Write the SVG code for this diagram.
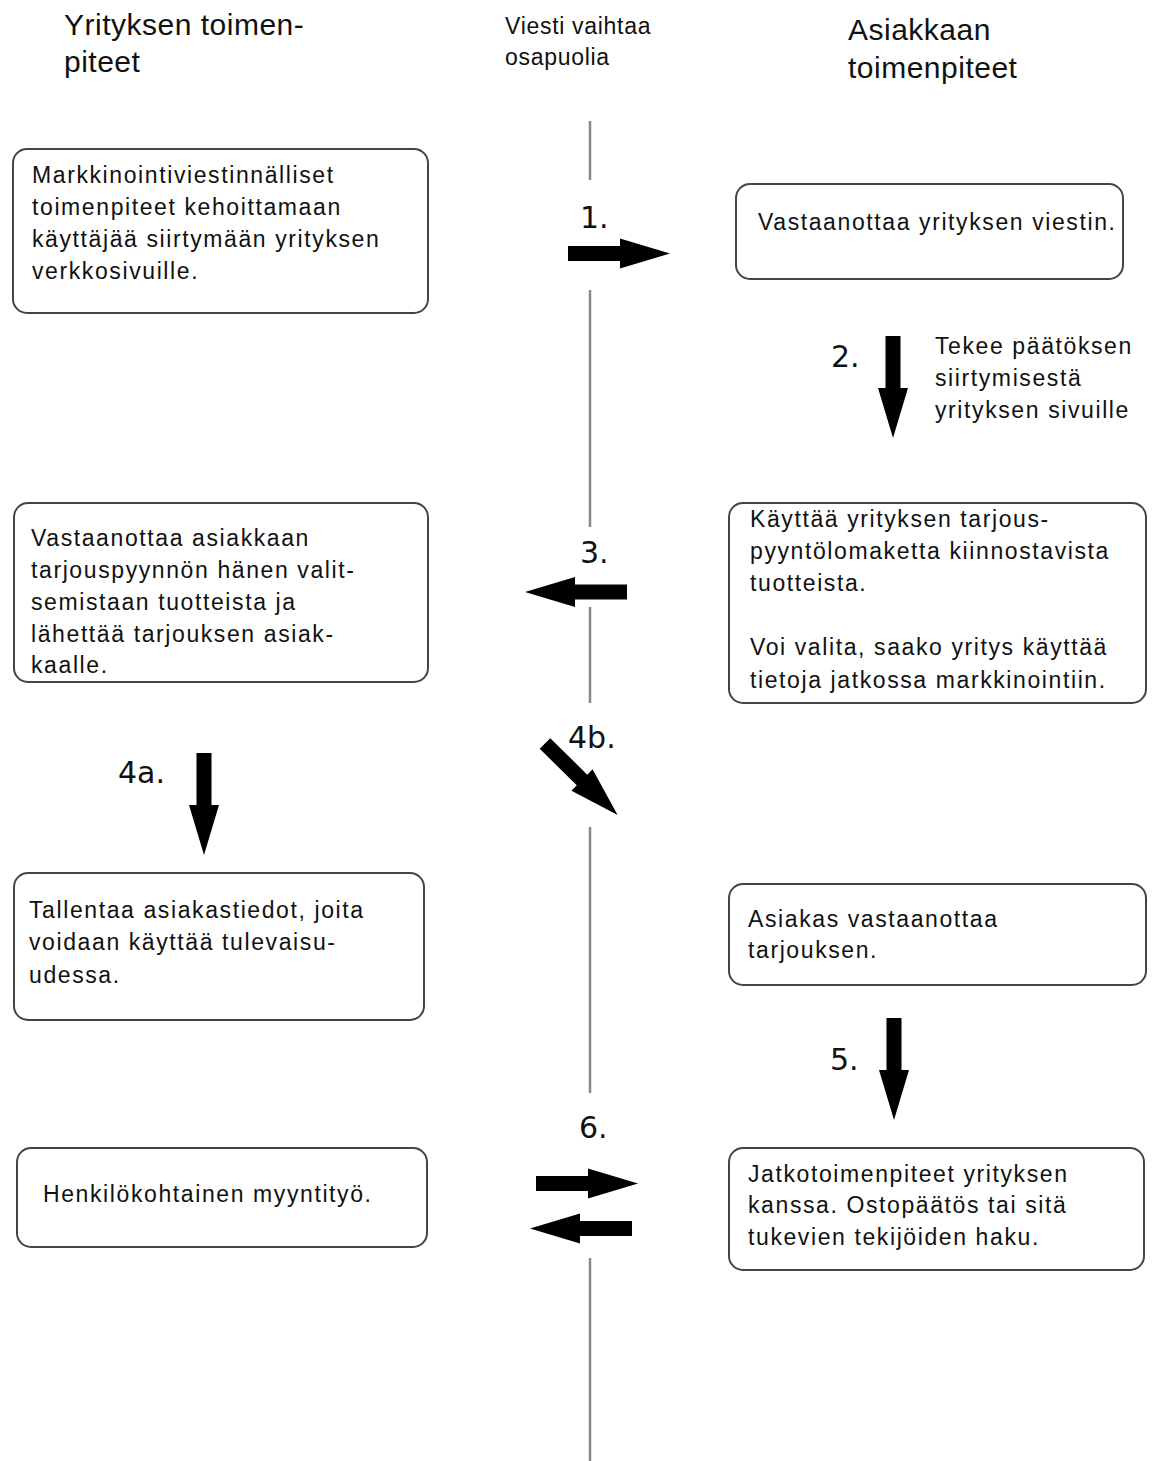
<svg xmlns="http://www.w3.org/2000/svg" xmlns:xlink="http://www.w3.org/1999/xlink" width="1152" height="1461" viewBox="0 0 1152 1461">
<style>
.box{fill:#fff;stroke:#444;stroke-width:2}
.t{font-family:"Liberation Sans",Arial,sans-serif;font-size:23px;letter-spacing:1.6px;fill:#111}
.h{font-family:"Liberation Sans",Arial,sans-serif;font-size:30px;letter-spacing:0.5px;fill:#111}
.hm{font-family:"Liberation Sans",Arial,sans-serif;font-size:23px;letter-spacing:0.7px;fill:#111}
.n{font-family:"DejaVu Sans",Verdana,sans-serif;font-size:30px;fill:#111}
.ln{stroke:#888;stroke-width:2.5}
.arr{fill:#000}
</style>
<defs>
<path id="arr" d="M0,-7.5 L52,-7.5 L52,-15 L102,0 L52,15 L52,7.5 L0,7.5 Z"/>
</defs>
<rect width="1152" height="1461" fill="#fff"/>
<g id="headers">
<text class="h" x="64" y="35">Yrityksen toimen-</text>
<text class="h" x="64" y="72">piteet</text>
<text class="hm" x="505" y="34">Viesti vaihtaa</text>
<text class="hm" x="505" y="65">osapuolia</text>
<text class="h" x="848" y="40">Asiakkaan</text>
<text class="h" x="848" y="78">toimenpiteet</text>
</g>
<g id="divider">
<line class="ln" x1="590" y1="121" x2="590" y2="180"/>
<line class="ln" x1="590" y1="290" x2="590" y2="527"/>
<line class="ln" x1="590" y1="607" x2="590" y2="703"/>
<line class="ln" x1="590" y1="827" x2="590" y2="1093"/>
<line class="ln" x1="590" y1="1258" x2="590" y2="1461" stroke="#777"/>
</g>
<g id="n1">
<rect class="box" x="13" y="149" width="415" height="164" rx="14"/>
<text class="t" x="32" y="183">Markkinointiviestinnälliset</text>
<text class="t" x="32" y="215">toimenpiteet kehoittamaan</text>
<text class="t" x="32" y="247">käyttäjää siirtymään yrityksen</text>
<text class="t" x="32" y="279">verkkosivuille.</text>
</g>
<g id="n2">
<rect class="box" x="736" y="184" width="387" height="95" rx="14"/>
<text class="t" x="758" y="230">Vastaanottaa yrityksen viestin.</text>
</g>
<g id="n2text">
<text class="t" x="935" y="354">Tekee päätöksen</text>
<text class="t" x="935" y="386">siirtymisestä</text>
<text class="t" x="935" y="418">yrityksen sivuille</text>
</g>
<g id="n3">
<rect class="box" x="14" y="503" width="414" height="179" rx="14"/>
<text class="t" x="31" y="546">Vastaanottaa asiakkaan</text>
<text class="t" x="31" y="578">tarjouspyynnön hänen valit-</text>
<text class="t" x="31" y="610">semistaan tuotteista ja</text>
<text class="t" x="31" y="642">lähettää tarjouksen asiak-</text>
<text class="t" x="31" y="673">kaalle.</text>
</g>
<g id="n4">
<rect class="box" x="729" y="503" width="417" height="200" rx="14"/>
<text class="t" x="750" y="527">Käyttää yrityksen tarjous-</text>
<text class="t" x="750" y="559">pyyntölomaketta kiinnostavista</text>
<text class="t" x="750" y="591">tuotteista.</text>
<text class="t" x="750" y="655">Voi valita, saako yritys käyttää</text>
<text class="t" x="750" y="688">tietoja jatkossa markkinointiin.</text>
</g>
<g id="n5">
<rect class="box" x="14" y="873" width="410" height="147" rx="14"/>
<text class="t" x="29" y="918">Tallentaa asiakastiedot, joita</text>
<text class="t" x="29" y="950">voidaan käyttää tulevaisu-</text>
<text class="t" x="29" y="983">udessa.</text>
</g>
<g id="n6">
<rect class="box" x="729" y="884" width="417" height="101" rx="14"/>
<text class="t" x="748" y="927">Asiakas vastaanottaa</text>
<text class="t" x="748" y="958">tarjouksen.</text>
</g>
<g id="n7">
<rect class="box" x="17" y="1148" width="410" height="99" rx="14"/>
<text class="t" x="43" y="1202">Henkilökohtainen myyntityö.</text>
</g>
<g id="n8">
<rect class="box" x="729" y="1148" width="415" height="122" rx="14"/>
<text class="t" x="748" y="1182">Jatkotoimenpiteet yrityksen</text>
<text class="t" x="748" y="1213">kanssa. Ostopäätös tai sitä</text>
<text class="t" x="748" y="1245">tukevien tekijöiden haku.</text>
</g>
<g id="connectors">
<use xlink:href="#arr" class="arr" transform="translate(568,253.5)"/>
<use xlink:href="#arr" class="arr" transform="translate(893,336) rotate(90)"/>
<use xlink:href="#arr" class="arr" transform="translate(627,592) rotate(180)"/>
<use xlink:href="#arr" class="arr" transform="translate(204,753) rotate(90)"/>
<use xlink:href="#arr" class="arr" transform="translate(545,743.5) rotate(44.6)"/>
<use xlink:href="#arr" class="arr" transform="translate(894,1018) rotate(90)"/>
<use xlink:href="#arr" class="arr" transform="translate(536,1183.5)"/>
<use xlink:href="#arr" class="arr" transform="translate(632,1228.5) rotate(180)"/>
</g>
<g id="labels">
<text class="n" x="580" y="228">1.</text>
<text class="n" x="831" y="367">2.</text>
<text class="n" x="580" y="563">3.</text>
<text class="n" x="118" y="783">4a.</text>
<text class="n" x="568" y="748">4b.</text>
<text class="n" x="830" y="1070">5.</text>
<text class="n" x="579" y="1138">6.</text>
</g>
</svg>
